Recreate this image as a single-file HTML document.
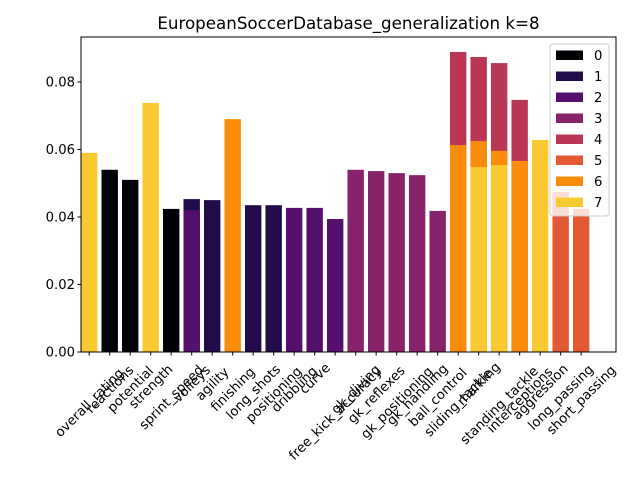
<!DOCTYPE html>
<html><head><meta charset="utf-8"><style>
body{margin:0;background:#fff;}
svg{display:block;font-family:"DejaVu Sans","Liberation Sans",sans-serif;}
</style></head><body>
<svg id="chart" width="640" height="480"></svg>
<script>
const categories=["overall_rating","reactions","potential","strength","sprint_speed","volleys","agility","finishing","long_shots","positioning","dribbling","curve","free_kick_accuracy","gk_diving","gk_reflexes","gk_positioning","gk_handling","ball_control","sliding_tackle","marking","standing_tackle","interceptions","aggression","long_passing","short_passing"];
const clusterNames=["0","1","2","3","4","5","6","7"];
const clusterColors=["#000004","#1f0c48","#550f6d","#88226a","#ba3655","#e35933","#f98c0a","#f9c932"];
const cluster0=[[1,0.054],[2,0.051],[4,0.0424]];
const cluster1=[[5,0.0453],[6,0.045],[8,0.0435],[9,0.0435]];
const cluster2=[[5,0.042],[10,0.0427],[11,0.0427],[12,0.0394]];
const cluster3=[[13,0.054],[14,0.0536],[15,0.053],[16,0.0524],[17,0.0418]];
const cluster4=[[18,0.0889],[19,0.0874],[20,0.0856],[21,0.0747]];
const cluster5=[[23,0.0474],[24,0.0424]];
const cluster6=[[7,0.069],[18,0.0613],[19,0.0625],[20,0.0596],[21,0.0566]];
const cluster7=[[0,0.059],[3,0.0738],[19,0.0548],[20,0.0554],[22,0.0628]];
const yTicks=[0,0.02,0.04,0.06,0.08];
const yTickLabels=["0.00","0.02","0.04","0.06","0.08"];
const clusters=[cluster0,cluster1,cluster2,cluster3,cluster4,cluster5,cluster6,cluster7];

const NS="http://www.w3.org/2000/svg";
const svg=document.getElementById('chart');
const L=81,R=616,T=37,B=352;
const xmin=-0.4,xmax=25.7,ymax=(B-T)/3375;
function xs(v){return L+(v-xmin)/(xmax-xmin)*(R-L);}
function ys(v){return B-v/ymax*(B-T);}
function mk(tag,attrs,parent){const e=document.createElementNS(NS,tag);for(const k in attrs)e.setAttribute(k,attrs[k]);(parent||svg).appendChild(e);return e;}

const title=mk('text',{x:(L+R)/2,y:29,'text-anchor':'middle','font-size':16.7,fill:'#000'});
title.textContent="EuropeanSoccerDatabase_generalization k=8";



const bw=(xs(0.8)-xs(0));
clusters.forEach((c,ci)=>{
  c.forEach(([i,v])=>{
    const r=mk('rect',{x:xs(i)-bw/2,y:ys(v),width:bw,height:B-ys(v),fill:clusterColors[ci]});
    
    
  });
});

const frame=mk('rect',{x:L,y:T,width:R-L,height:B-T,fill:'none',stroke:'#000','stroke-width':1});



yTicks.forEach((t,k)=>{
  mk('line',{x1:L-3.5,x2:L,y1:ys(t),y2:ys(t),stroke:'#000'});
  const tx=mk('text',{x:L-6,y:ys(t)+4.5,'text-anchor':'end','font-size':13.2});
  tx.textContent=yTickLabels[k];
  
  
});
categories.forEach((c,i)=>{
  const x=xs(i);
  mk('line',{x1:x,x2:x,y1:B,y2:B+3.5,stroke:'#000'});
  const tx=mk('text',{x:0,y:0,'text-anchor':'middle','font-size':13.2});
  const w=c.length*7.6;
  const cx=x, cy=B+8+(w/2)*0.707+5;
  tx.setAttribute('transform',`translate(${cx},${cy}) rotate(-45)`);
  tx.setAttribute('dy','4.5');
  tx.textContent=c;
  
  
});

const lg=mk('g',{});


mk('rect',{x:550,y:44,width:59,height:172,rx:3,fill:'#fff','fill-opacity':0.8,stroke:'#ccc'},lg);
clusterNames.forEach((n,k)=>{
  const yy=55+k*21;
  const g=mk('g',{},lg);
  
  
  mk('rect',{x:556,y:yy-4.5,width:27,height:9.5,fill:clusterColors[k]},g);
  const t=mk('text',{x:594,y:yy+5,'font-size':13.2},g);
  t.textContent=n;
});
</script>
</body></html>
